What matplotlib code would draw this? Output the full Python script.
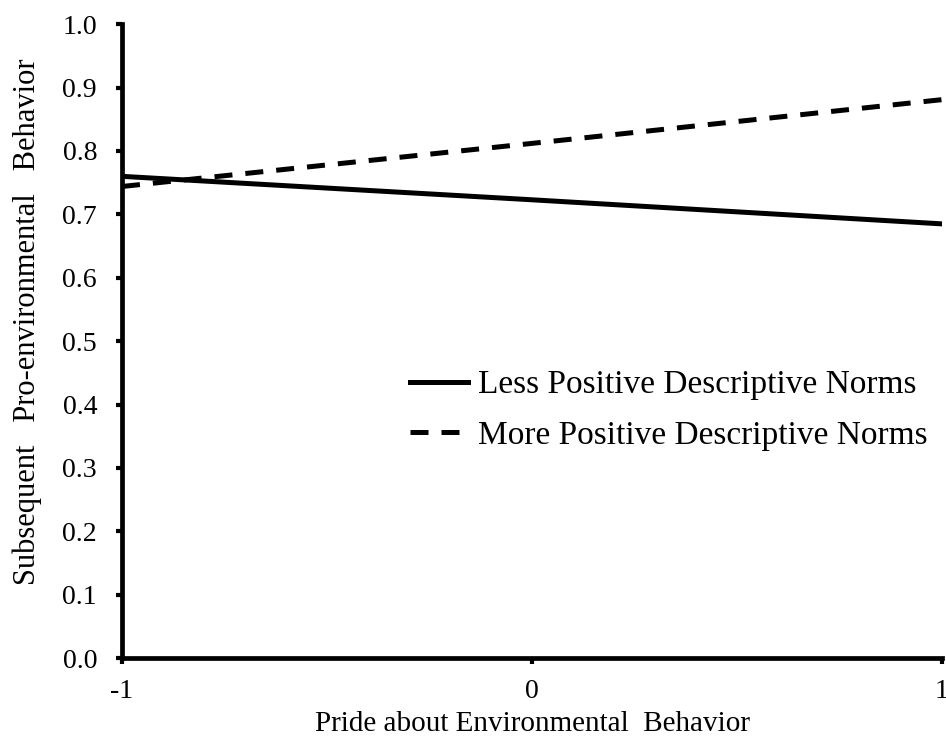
import numpy as np
import matplotlib.pyplot as plt
import matplotlib as mpl

mpl.rcParams['font.family'] = 'Liberation Serif'
mpl.rcParams['axes.linewidth'] = 3.4

# values
pride = [-1, 0, 1]
less_positive = [0.760, 0.723, 0.685]
more_positive = [0.744, 0.812, 0.881]

x_ticks = [-1, 0, 1]
y_ticks = [0.0, 0.1, 0.2, 0.3, 0.4, 0.5, 0.6, 0.7, 0.8, 0.9, 1.0]

fig = plt.figure(figsize=(9.46, 7.47), dpi=100)
ax = fig.add_axes([0.129, 0.119, 0.8668, 0.8486])

ax.plot(pride, less_positive, color='black', linewidth=3.6,
        label='Less Positive Descriptive Norms')
ax.plot(pride, more_positive, color='black', linewidth=3.6,
        dashes=(3.6, 2.6), label='More Positive Descriptive Norms')

ax.set_xlim(-1, 1)
ax.set_ylim(0, 1)
ax.set_xticks(x_ticks)
ax.set_xticklabels([str(t) for t in x_ticks])
ax.set_yticks(y_ticks)
ax.set_yticklabels(['%.1f' % t for t in y_ticks])

ax.spines['top'].set_visible(False)
ax.spines['right'].set_visible(False)
ax.tick_params(axis='both', direction='out', length=4, width=3, labelsize=20)
ax.tick_params(axis='y', pad=14)
ax.tick_params(axis='x', pad=11)

ax.set_xlabel('Pride about Environmental  Behavior', fontsize=21, labelpad=5)
ax.set_ylabel('Subsequent   Pro-environmental   Behavior', fontsize=22)
ax.yaxis.set_label_coords(-0.098, 0.53)

ax.legend(loc='upper left', bbox_to_anchor=(0.351, 0.455), frameon=False,
          fontsize=24, handlelength=1.75, handletextpad=0.3, borderpad=0,
          borderaxespad=0, labelspacing=0.6)

fig.savefig('out.png', dpi=100)
